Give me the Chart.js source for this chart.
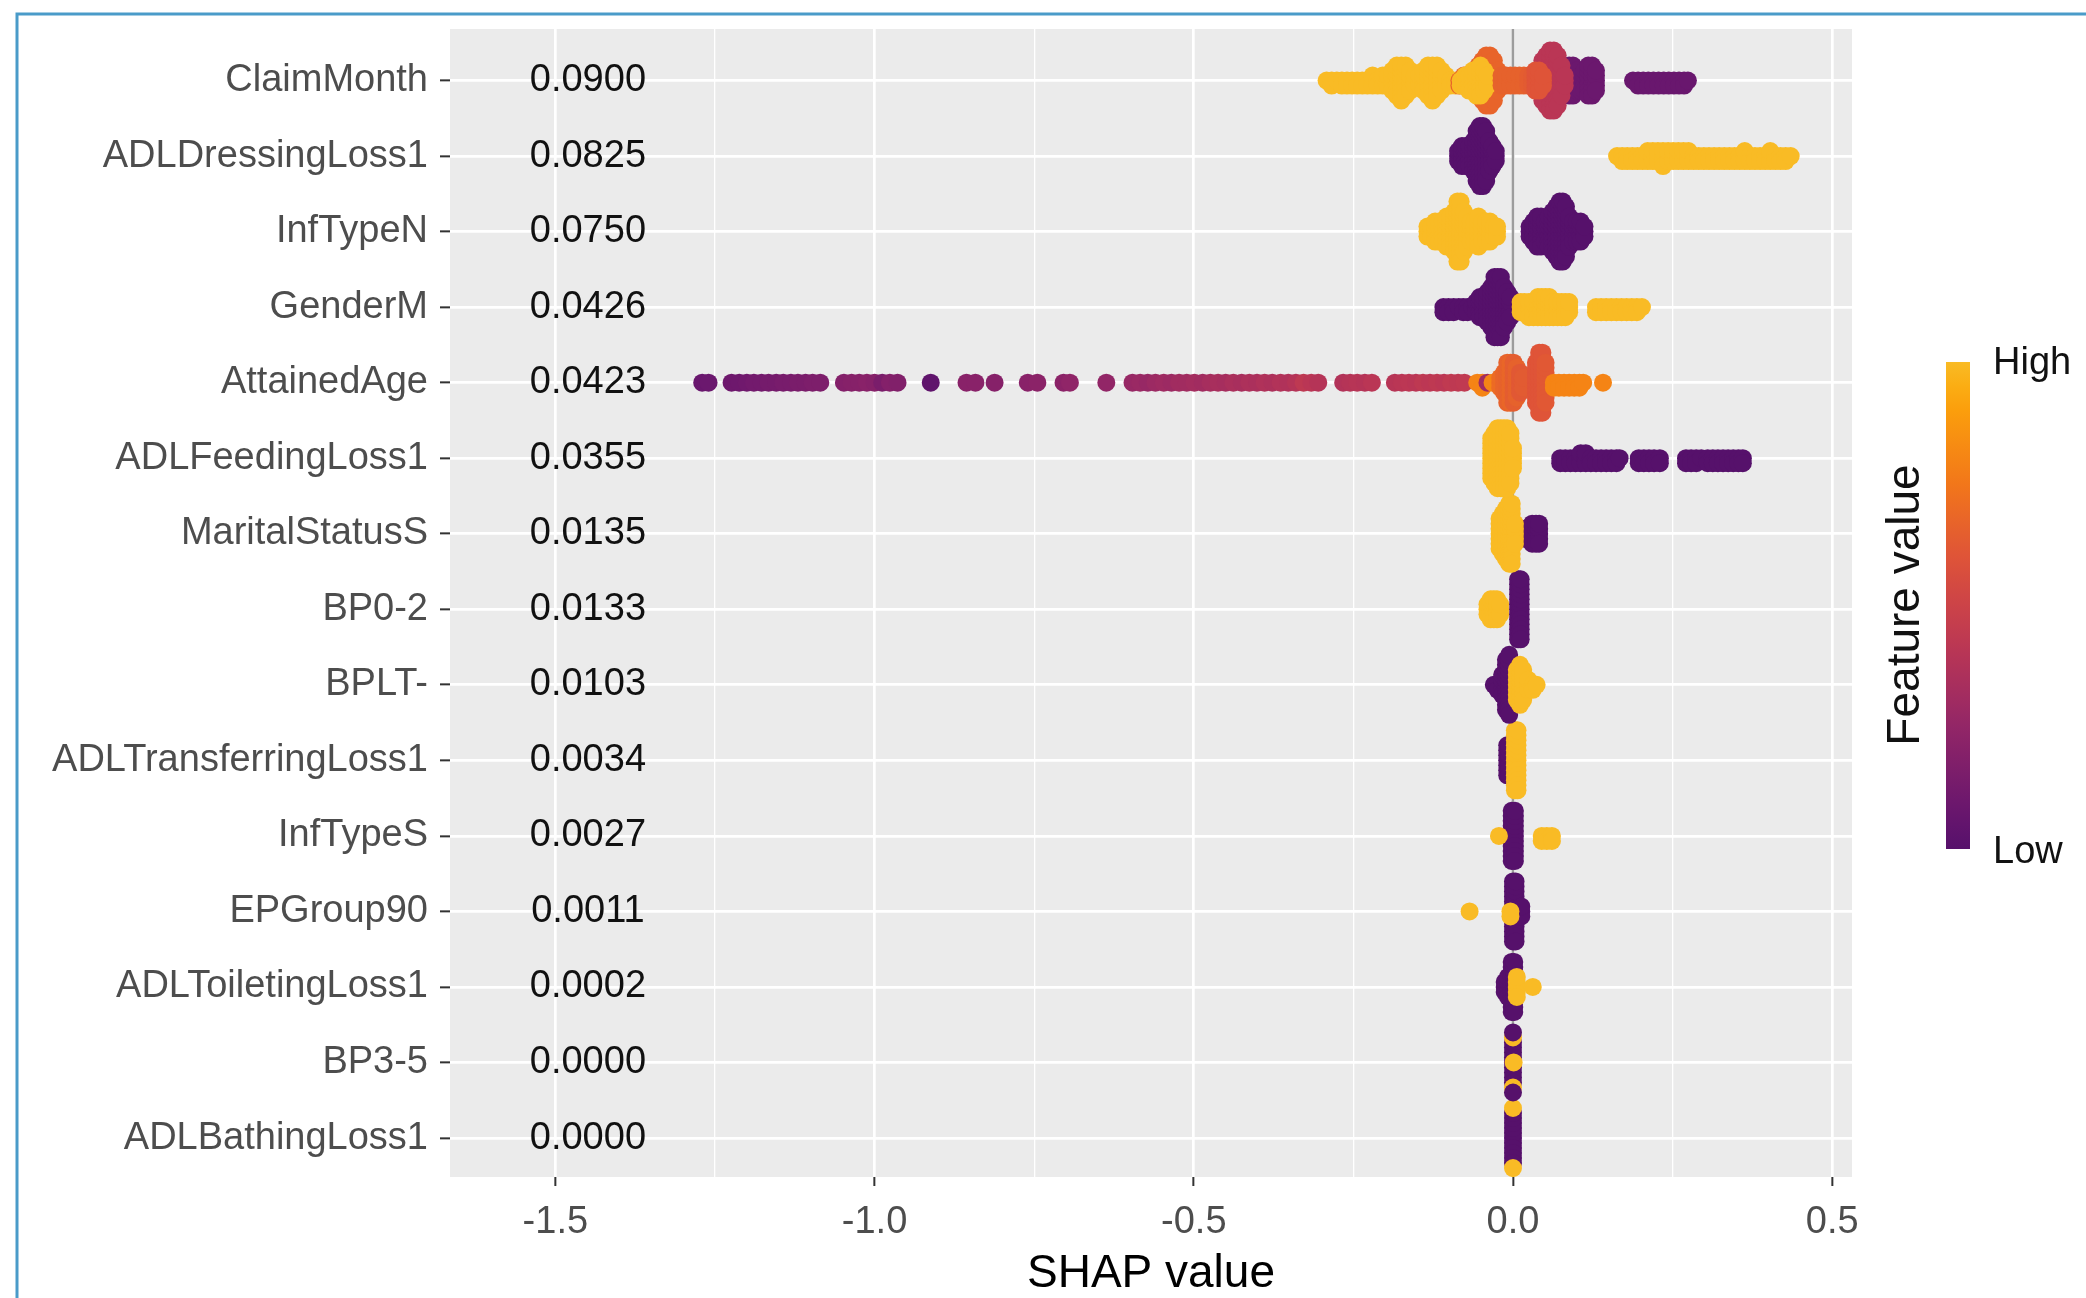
<!DOCTYPE html>
<html>
<head>
<meta charset="utf-8">
<script src="https://cdn.jsdelivr.net/npm/chart.js@4.4.1/dist/chart.umd.min.js"></script>
<style>
  html, body { margin: 0; padding: 0; background: #fff; overflow: hidden; }
  canvas { display: block; }
</style>
</head>
<body>
<canvas id="shapChart" width="2086" height="1298"></canvas>
<script>
// Features, top to bottom, and their mean |SHAP|
const features = ["ClaimMonth", "ADLDressingLoss1", "InfTypeN", "GenderM", "AttainedAge",
  "ADLFeedingLoss1", "MaritalStatusS", "BP0-2", "BPLT-", "ADLTransferringLoss1",
  "InfTypeS", "EPGroup90", "ADLToiletingLoss1", "BP3-5", "ADLBathingLoss1"];
const meanAbsShap = [0.0900, 0.0825, 0.0750, 0.0426, 0.0423, 0.0355, 0.0135, 0.0133,
  0.0103, 0.0034, 0.0027, 0.0011, 0.0002, 0.0000, 0.0000];
const xTicks = [-1.5, -1.25, -1.0, -0.75, -0.5, -0.25, 0, 0.25, 0.5];

// observations per feature: [shap value, scaled feature value (0 low .. 1 high), count]
const claimMonthPts = [
  [-0.292,1,1],[-0.284,1,2],[-0.276,1,1],[-0.268,1,2],[-0.26,1,2],[-0.252,1,2],[-0.244,1,2],[-0.236,1,2],
  [-0.228,1,2],[-0.22,1,3],[-0.212,1,2],[-0.204,1,3],[-0.196,1,3],[-0.189,1,5],[-0.182,1,7],[-0.175,1,8],
  [-0.168,1,7],[-0.161,1,5],[-0.154,1,3],[-0.147,1,3],[-0.14,1,5],[-0.133,1,7],[-0.126,1,8],[-0.119,1,7],
  [-0.112,1,5],[-0.105,1,3],[-0.098,1,2],[-0.09,1,2],
  [-0.084,0.67,2],[-0.077,0.67,3],
  [-0.06,0.67,3],[-0.054,0.67,7],[-0.048,0.67,9],[-0.042,0.67,11],[-0.036,0.67,11],[-0.03,0.67,9],[-0.024,0.67,5],
  [-0.082,1,2],[-0.075,1,3],[-0.069,1,4],[-0.063,1,5],[-0.057,1,6],[-0.051,1,7],[-0.045,1,5],[-0.04,1,3],
  [-0.018,0.66,3],[-0.011,0.66,3],[-0.004,0.66,3],[0.003,0.66,3],[0.01,0.66,3],[0.017,0.66,3],[0.024,0.64,3],[0.03,0.63,3],
  [0.082,0.09,5],[0.088,0.09,7],[0.094,0.09,7],[0.1,0.09,5],[0.106,0.09,4],[0.112,0.09,5],[0.118,0.09,7],[0.124,0.09,7],[0.13,0.09,5],
  [0.04,0.41,5],[0.046,0.41,9],[0.052,0.41,11],[0.058,0.41,13],[0.064,0.41,13],[0.07,0.41,11],[0.076,0.41,7],[0.081,0.41,3],
  [0.035,0.6,5],[0.041,0.6,5],[0.047,0.6,3],
  [0.188,0.08,1],[0.196,0.08,2],[0.204,0.08,2],[0.212,0.08,2],[0.22,0.08,2],[0.228,0.08,2],[0.236,0.08,2],
  [0.244,0.08,2],[0.252,0.08,2],[0.26,0.08,2],[0.268,0.08,2],[0.274,0.08,1]
];
const adlDressingPts = [
  [-0.086,0,3],[-0.08,0,5],[-0.074,0,5],[-0.068,0,5],[-0.062,0,7],[-0.057,0,11],[-0.052,0,13],[-0.047,0,13],
  [-0.042,0,11],[-0.037,0,7],[-0.032,0,5],[-0.027,0,3],
  [0.163,1,1],[0.171,1,2],[0.179,1,2],[0.187,1,2],[0.195,1,2],[0.203,1,2],[0.211,1,3],[0.219,1,3],[0.227,1,3],
  [0.235,1,4],[0.243,1,3],[0.251,1,3],[0.259,1,3],[0.267,1,3],[0.275,1,3],[0.283,1,2],[0.291,1,2],[0.299,1,2],
  [0.307,1,2],[0.315,1,2],[0.323,1,2],[0.331,1,2],[0.339,1,2],[0.347,1,2],[0.355,1,2],[0.363,1,3],[0.371,1,2],
  [0.379,1,2],[0.387,1,2],[0.395,1,2],[0.403,1,3],[0.411,1,2],[0.419,1,2],[0.427,1,2],[0.435,1,1]
];
const infTypeNPts = [
  [-0.134,1,3],[-0.128,1,3],[-0.122,1,5],[-0.116,1,5],[-0.11,1,5],[-0.104,1,7],[-0.098,1,7],[-0.092,1,9],
  [-0.087,1,13],[-0.082,1,13],[-0.077,1,9],[-0.072,1,7],[-0.066,1,5],[-0.06,1,5],[-0.054,1,7],[-0.048,1,5],
  [-0.042,1,5],[-0.036,1,5],[-0.03,1,3],[-0.025,1,3],
  [0.026,0,3],[0.032,0,5],[0.038,0,7],[0.044,0,7],[0.05,0,5],[0.056,0,7],[0.062,0,9],[0.068,0,11],
  [0.073,0,13],[0.078,0,13],[0.083,0,11],[0.088,0,7],[0.094,0,5],[0.1,0,5],[0.106,0,5],[0.112,0,3]
];
const genderMPts = [
  [-0.109,0,2],[-0.101,0,2],[-0.093,0,2],[-0.085,0,1],[-0.078,0,2],[-0.071,0,2],[-0.064,0,1],
  [-0.058,0,3],[-0.052,0,5],[-0.046,0,5],[-0.04,0,7],[-0.034,0,9],[-0.029,0,13],[-0.024,0,13],[-0.019,0,13],
  [-0.014,0,9],[-0.009,0,7],[-0.004,0,5],
  [0.012,1,3],[0.018,1,3],[0.025,1,4],[0.032,1,4],[0.039,1,5],[0.045,1,5],[0.051,1,5],[0.057,1,5],
  [0.063,1,4],[0.07,1,4],[0.076,1,4],[0.082,1,4],[0.088,1,3],
  [0.13,1,2],[0.138,1,2],[0.146,1,2],[0.154,1,2],[0.162,1,2],[0.17,1,2],[0.178,1,2],[0.186,1,2],[0.194,1,2],[0.202,1,1]
];
const attainedAgePts = [
  [-1.27,0.08,1],[-1.26,0.09,1],
  [-1.224,0.1,1],[-1.212,0.1,1],[-1.2,0.11,1],[-1.189,0.12,1],[-1.177,0.12,1],[-1.166,0.13,1],[-1.154,0.13,1],
  [-1.143,0.14,1],[-1.131,0.14,1],[-1.12,0.15,1],[-1.108,0.15,1],[-1.097,0.16,1],[-1.085,0.16,1],
  [-1.048,0.19,1],[-1.036,0.2,1],[-1.024,0.2,1],[-1.012,0.21,1],[-1.0,0.2,1],[-0.988,0.15,1],[-0.976,0.19,1],[-0.964,0.18,1],
  [-0.912,0.04,1],[-0.856,0.21,1],[-0.842,0.21,1],[-0.812,0.2,1],[-0.76,0.21,1],[-0.745,0.22,1],
  [-0.704,0.22,1],[-0.694,0.24,1],[-0.637,0.25,1],
  [-0.596,0.27,1],[-0.584,0.28,1],[-0.572,0.27,1],[-0.56,0.29,1],[-0.547,0.3,1],[-0.535,0.29,1],[-0.523,0.31,1],
  [-0.511,0.31,1],[-0.499,0.32,1],[-0.486,0.31,1],[-0.474,0.33,1],[-0.462,0.34,1],[-0.45,0.33,1],[-0.438,0.35,1],
  [-0.425,0.34,1],[-0.413,0.36,1],[-0.401,0.35,1],[-0.389,0.37,1],[-0.377,0.36,1],[-0.364,0.38,1],[-0.352,0.37,1],
  [-0.34,0.39,1],[-0.328,0.43,1],[-0.316,0.41,1],[-0.305,0.39,1],
  [-0.266,0.38,1],[-0.255,0.39,1],[-0.244,0.4,1],[-0.232,0.39,1],[-0.221,0.41,1],
  [-0.185,0.4,1],[-0.174,0.41,1],[-0.163,0.42,1],[-0.152,0.41,1],[-0.141,0.43,1],[-0.13,0.42,1],[-0.119,0.43,1],
  [-0.108,0.42,1],[-0.097,0.44,1],[-0.086,0.43,1],[-0.076,0.44,1],
  [-0.056,0.8,1],[-0.048,0.8,2],[-0.04,0.3,1],[-0.032,0.8,1],
  [-0.02,0.7,3],[-0.014,0.67,5],[-0.009,0.66,9],[-0.004,0.68,9],[0.001,0.64,9],[0.006,0.66,7],[0.011,0.62,5],[0.016,0.63,3],
  [0.036,0.6,9],[0.041,0.6,13],[0.046,0.6,13],[0.051,0.62,9],
  [0.064,0.8,2],[0.072,0.8,2],[0.08,0.8,2],[0.088,0.8,2],[0.096,0.8,2],[0.104,0.8,2],[0.11,0.8,1],[0.141,0.8,1]
];
const adlFeedingPts = [
  [-0.034,1,9],[-0.029,1,11],[-0.024,1,13],[-0.019,1,13],[-0.014,1,13],[-0.009,1,13],[-0.004,1,11],[0.0,1,5],
  [0.074,0,2],[0.082,0,2],[0.09,0,2],[0.098,0,2],[0.106,0,3],[0.114,0,3],[0.122,0,2],[0.13,0,2],[0.138,0,2],
  [0.146,0,2],[0.154,0,2],[0.162,0,2],[0.167,0,1],
  [0.197,0,2],[0.205,0,2],[0.213,0,2],[0.221,0,2],[0.23,0,2],
  [0.271,0,2],[0.279,0,2],[0.287,0,2],[0.295,0,1],[0.305,0,2],[0.313,0,2],[0.321,0,2],[0.329,0,2],[0.337,0,2],
  [0.345,0,2],[0.353,0,2],[0.36,0,2]
];
const maritalStatusSPts = [
  [0.018,0,3],[0.024,0,3],[0.03,0,5],[0.036,0,5],[0.041,0,5],
  [-0.021,1,7],[-0.016,1,9],[-0.011,1,11],[-0.006,1,13],[-0.002,1,13],[0.003,1,5]
];
const bp02Pts = [
  [-0.04,1,3],[-0.035,1,5],[-0.03,1,5],[-0.025,1,5],[-0.02,1,3],
  [0.008,0,13],[0.012,0,13]
];
const bpltPts = [
  [-0.03,0,1],[-0.024,0,2],[-0.017,0,5],[-0.011,0,11],[-0.006,0,13],
  [0.006,1,7],[0.011,1,9],[0.016,1,7],[0.024,1,3],[0.031,1,2],[0.037,1,1]
];
const adlTransferringPts = [
  [-0.009,0,7],[-0.006,0,7],
  [0.003,1,13],[0.007,1,13]
];
const infTypeSPts = [
  [-0.002,0,11],[0.003,0,11],
  [-0.022,1,1],[0.045,1,2],[0.053,1,2],[0.061,1,2]
];
const epGroup90Pts = [
  [0.0,0,13],[0.004,0,13],[0.013,0,3],
  [-0.068,1,1],[-0.004,1,2]
];
const adlToiletingPts = [
  [-0.013,0,3],[-0.008,0,5],[-0.002,0,11],[0.002,0,11],
  [0.006,1,5],[0.031,1,1]
];
const bp35Pts = [
  [0,0,9],[0,1,2],[0,0,2],[0.001,1,1]
];
const adlBathingPts = [
  [0,0,11],[0,1,2]
];

const rowPoints = [claimMonthPts, adlDressingPts, infTypeNPts, genderMPts, attainedAgePts,
  adlFeedingPts, maritalStatusSPts, bp02Pts, bpltPts, adlTransferringPts,
  infTypeSPts, epGroup90Pts, adlToiletingPts, bp35Pts, adlBathingPts];

// inferno palette, used from 0.25 (low) to 0.845 (high)
const inferno = ["#000004", "#160b39", "#420a68", "#6a176e", "#932667", "#bc3754",
  "#dd513a", "#f37819", "#fca50a", "#f6d746", "#fcffa4"];
function hexToRgb(h) {
  return [parseInt(h.slice(1, 3), 16), parseInt(h.slice(3, 5), 16), parseInt(h.slice(5, 7), 16)];
}
function featureColor(fv) {
  const t = (0.25 + 0.595 * fv) * 10;
  const i = Math.min(9, Math.floor(t));
  const f = t - i;
  const a = hexToRgb(inferno[i]), b = hexToRgb(inferno[i + 1]);
  const c = a.map((v, k) => Math.round(v + (b[k] - v) * f));
  return "rgb(" + c.join(",") + ")";
}

// stack equal shap values centre-out, like a dot swarm
const STEP_PX = 5;
const PX_PER_ROW = 75.5;
function swarm(row, pts) {
  const used = {};
  const out = [];
  pts.forEach(([x, fv, n]) => {
    for (let k = 0; k < n; k++) {
      const idx = used[x] || 0;
      used[x] = idx + 1;
      const m = Math.ceil(idx / 2) * (idx % 2 ? 1 : -1);
      out.push({ x: x, y: row + m * STEP_PX / PX_PER_ROW, fv: fv });
    }
  });
  return out;
}

const datasets = rowPoints.map((pts, i) => ({
  label: features[i],
  data: swarm(i, pts),
  pointRadius: 9,
  pointHoverRadius: 9,
  borderWidth: 0,
  backgroundColor: ctx => featureColor(ctx.raw ? ctx.raw.fv : 0)
}));

const isMajor = v => Math.abs(v * 2 - Math.round(v * 2)) < 1e-9;

const shapPlugin = {
  id: "shapExtras",
  beforeDraw(chart) {
    const { ctx, chartArea: a } = chart;
    ctx.save();
    ctx.fillStyle = "#ffffff";
    ctx.fillRect(0, 0, chart.width, chart.height);
    ctx.fillStyle = "#ebebeb";
    ctx.fillRect(a.left, a.top, a.right - a.left, a.bottom - a.top);
    ctx.restore();
  },
  beforeDatasetsDraw(chart) {
    const { ctx, chartArea: a, scales } = chart;
    const x0 = scales.x.getPixelForValue(0);
    ctx.save();
    ctx.strokeStyle = "#9c9c9c";
    ctx.lineWidth = 2.5;
    ctx.beginPath();
    ctx.moveTo(x0, a.top);
    ctx.lineTo(x0, a.bottom);
    ctx.stroke();
    ctx.restore();
  },
  afterDatasetsDraw(chart) {
    const { ctx, scales } = chart;
    ctx.save();
    ctx.font = "38px 'Liberation Sans', Arial, sans-serif";
    ctx.fillStyle = "#111111";
    ctx.textAlign = "center";
    ctx.textBaseline = "middle";
    const xp = scales.x.getPixelForValue(-1.449);
    meanAbsShap.forEach((v, i) => {
      ctx.fillText(v.toFixed(4), xp, scales.y.getPixelForValue(i));
    });
    ctx.restore();
  },
  afterDraw(chart) {
    const ctx = chart.ctx;
    ctx.save();
    // colour bar legend
    const bx = 1946, bw = 24, top = 362, bottom = 849;
    const g = ctx.createLinearGradient(0, top, 0, bottom);
    for (let s = 0; s <= 20; s++) g.addColorStop(s / 20, featureColor(1 - s / 20));
    ctx.fillStyle = g;
    ctx.fillRect(bx, top, bw, bottom - top);
    ctx.fillStyle = "#111111";
    ctx.font = "38px 'Liberation Sans', Arial, sans-serif";
    ctx.textAlign = "left";
    ctx.textBaseline = "middle";
    ctx.fillText("High", 1993, top + 2);
    ctx.fillText("Low", 1993, bottom + 4);
    ctx.font = "46px 'Liberation Sans', Arial, sans-serif";
    ctx.textAlign = "center";
    ctx.translate(1906, 605);
    ctx.rotate(-Math.PI / 2);
    ctx.fillText("Feature value", 0, 0);
    ctx.restore();
    // blue frame of the screenshot
    ctx.save();
    ctx.strokeStyle = "#4a9bc9";
    ctx.lineWidth = 3;
    ctx.beginPath();
    ctx.moveTo(17, chart.height);
    ctx.lineTo(17, 14);
    ctx.lineTo(chart.width, 14);
    ctx.stroke();
    ctx.restore();
  }
};

Chart.defaults.font.family = "'Liberation Sans', Arial, sans-serif";

new Chart(document.getElementById("shapChart"), {
  type: "scatter",
  data: { datasets: datasets },
  plugins: [shapPlugin],
  options: {
    responsive: false,
    animation: false,
    devicePixelRatio: 1,
    layout: { padding: { top: 29, right: 234, left: 0, bottom: 0 } },
    plugins: { legend: { display: false }, tooltip: { enabled: false } },
    scales: {
      x: {
        type: "linear",
        min: -1.665,
        max: 0.531,
        afterBuildTicks: axis => { axis.ticks = xTicks.map(v => ({ value: v })); },
        afterFit: axis => {
          axis.height = 121;
          axis.paddingLeft = 0;
          axis.paddingRight = 0;
        },
        border: { display: false },
        grid: {
          color: "#ffffff",
          lineWidth: ctx => (ctx.tick && isMajor(ctx.tick.value) ? 2.7 : 1.3),
          drawTicks: true,
          tickLength: 9,
          tickWidth: 2,
          tickColor: ctx => (ctx.tick && isMajor(ctx.tick.value) ? "#333333" : "rgba(0,0,0,0)")
        },
        ticks: {
          autoSkip: false,
          maxRotation: 0,
          padding: 14,
          color: "#4d4d4d",
          font: { size: 38 },
          callback: v => (isMajor(v) ? v.toFixed(1) : "")
        },
        title: {
          display: true,
          text: "SHAP value",
          color: "#000000",
          font: { size: 46, lineHeight: 1.03 },
          padding: { top: 0, bottom: 0 }
        }
      },
      y: {
        type: "linear",
        reverse: true,
        min: -0.682,
        max: 14.516,
        afterBuildTicks: axis => { axis.ticks = features.map((f, i) => ({ value: i })); },
        afterFit: axis => {
          axis.width = 450;
          axis.paddingTop = 0;
          axis.paddingBottom = 0;
        },
        border: { display: false },
        grid: {
          color: "#ffffff",
          lineWidth: 2.7,
          drawTicks: true,
          tickLength: 10,
          tickWidth: 2,
          tickColor: "#333333"
        },
        ticks: {
          autoSkip: false,
          padding: 12,
          color: "#4d4d4d",
          font: { size: 38 },
          callback: v => features[v]
        }
      }
    }
  }
});
</script>
</body>
</html>
